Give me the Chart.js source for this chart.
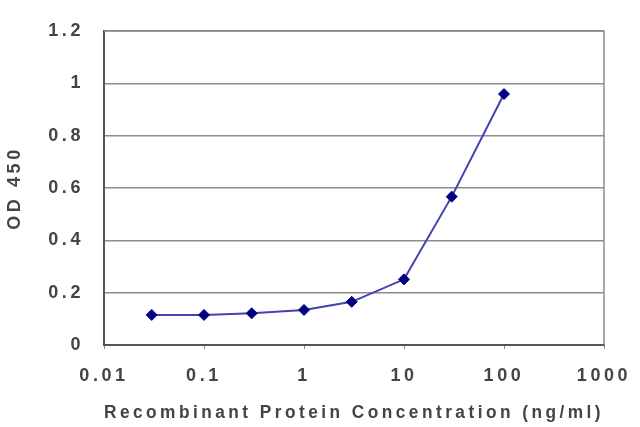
<!DOCTYPE html>
<html>
<head>
<meta charset="utf-8">
<script src="https://cdn.jsdelivr.net/npm/chart.js@4.4.1/dist/chart.umd.min.js"></script>
<style>
  html, body { margin: 0; padding: 0; background: #fff; }
  .wrap { width: 640px; height: 427px; position: relative; }
</style>
</head>
<body>
<div class="wrap"><canvas id="chart"></canvas></div>
<script>
// concentrations (ng/ml) and measured OD 450
const concentrations = [0.03, 0.1, 0.3, 1, 3, 10, 30, 100];
const od450 = [0.115, 0.115, 0.121, 0.134, 0.165, 0.251, 0.567, 0.959];

const xTicks = [0.01, 0.1, 1, 10, 100, 1000];
const xTickLabels = ["0.01", "0.1", "1", "10", "100", "1000"];
const yTicks = [0, 0.2, 0.4, 0.6, 0.8, 1, 1.2];
const yTickLabels = ["0", "0.2", "0.4", "0.6", "0.8", "1", "1.2"];

const textColor = "#444";
const gridColor = "#8c8c8c";
const font = { family: "Liberation Sans", size: 18, weight: "bold" };

// stretched look of the original labels
const spacing = {
    id: "spacing",
    beforeLayout(chart) { chart.ctx.letterSpacing = "3.6px"; },
    beforeDraw(chart) { chart.ctx.letterSpacing = "3.6px"; }
};

// grey frame round the plot
const frame = {
    id: "frame",
    beforeDatasetsDraw(chart) {
        const { ctx, chartArea: a } = chart;
        ctx.save();
        ctx.strokeStyle = gridColor;
        ctx.lineWidth = 1.5;
        ctx.beginPath();
        ctx.moveTo(a.left, a.top);
        ctx.lineTo(a.right, a.top);
        ctx.lineTo(a.right, a.bottom);
        ctx.stroke();
        ctx.restore();
    }
};

const ctx = document.getElementById("chart").getContext("2d");

new Chart(ctx, {
    type: "line",
    data: {
        datasets: [{
            data: concentrations.map((c, i) => ({ x: c, y: od450[i] })),
            borderColor: "#4242b2",
            borderWidth: 2,
            pointStyle: "rectRot",
            pointRadius: 5.5,
            pointBackgroundColor: "#000080",
            pointBorderColor: "#000080",
            pointBorderWidth: 1,
            tension: 0
        }]
    },
    options: {
        responsive: true,
        maintainAspectRatio: false,
        animation: false,
        layout: { padding: { top: 31, right: 36, bottom: 0, left: 0 } },
        plugins: {
            legend: { display: false },
            tooltip: { enabled: false }
        },
        scales: {
            x: {
                type: "logarithmic",
                min: 0.01,
                max: 1000,
                afterBuildTicks: s => { s.ticks = xTicks.map(v => ({ value: v })); },
                afterFit: s => {
                    s.height = 82;
                    s.paddingLeft = 0;
                    s.paddingRight = 0;
                },
                ticks: {
                    autoSkip: false,
                    maxRotation: 0,
                    padding: 16,
                    color: textColor,
                    font,
                    callback: (v, i) => xTickLabels[i]
                },
                grid: {
                    drawOnChartArea: false,
                    drawTicks: true,
                    tickLength: 4,
                    color: gridColor
                },
                border: { color: "#555", width: 2 },
                title: {
                    display: true,
                    text: "Recombinant Protein Concentration (ng/ml)",
                    color: textColor,
                    font,
                    padding: { top: 0, bottom: 3 }
                }
            },
            y: {
                min: 0,
                max: 1.2,
                afterBuildTicks: s => { s.ticks = yTicks.map(v => ({ value: v })); },
                afterFit: s => {
                    s.width = 104;
                    s.paddingTop = 0;
                    s.paddingBottom = 0;
                },
                ticks: {
                    padding: 20,
                    color: textColor,
                    font,
                    callback: (v, i) => yTickLabels[i]
                },
                grid: {
                    drawTicks: false,
                    color: ctx => ctx.index === 0 ? "rgba(0,0,0,0)" : gridColor,
                    lineWidth: 1.5
                },
                border: { color: "#555", width: 2 },
                title: {
                    display: true,
                    text: "OD 450",
                    color: textColor,
                    font,
                    padding: { top: 4, bottom: 0 }
                }
            }
        }
    },
    plugins: [spacing, frame]
});
</script>
</body>
</html>
